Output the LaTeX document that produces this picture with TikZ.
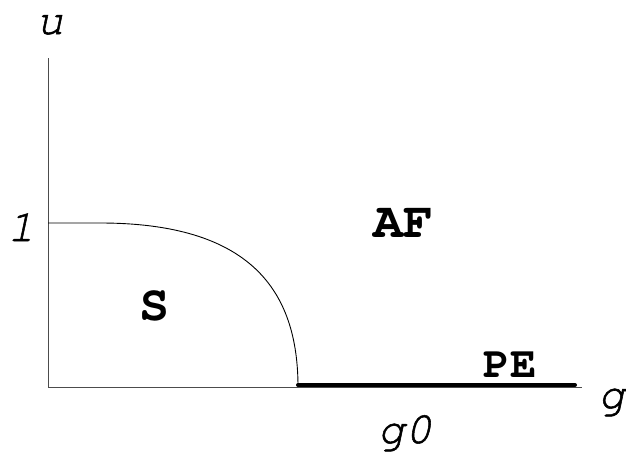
\documentclass[tikz,border=0pt]{standalone}
\usepackage{fontspec}
\newfontfamily\curobl{texgyrecursor-italic}[Extension=.otf,FakeBold=1.2]
\newfontfamily\curbold{texgyrecursor-bold}[Extension=.otf]
\begin{document}
\begin{tikzpicture}[x=1pt,y=-1pt,
  axislbl/.style={font=\fontsize{45}{45}\selectfont\curobl, inner sep=0pt, anchor=base, text height=0.5em},
  regionlbl/.style={font=\fontsize{50}{50}\selectfont\curbold, inner sep=0pt, anchor=base},
  axisline/.style={line width=0.9pt, draw=black!70},
  boundary/.style={line width=0.9pt},
  thickline/.style={line width=4pt, line cap=round}]
\useasboundingbox (0,0) rectangle (626,455);
\coordinate (top) at (48,58);
\coordinate (origin) at (48,387);
\coordinate (right) at (582,387);
\coordinate (one) at (48,223);
\coordinate (flat) at (100,223);
\coordinate (g0pt) at (298,387);
\coordinate (peend) at (575,385);
\draw[axisline] (top) -- (origin) -- (right);
\draw[boundary] (one) -- (flat) .. controls (250,223) and (298,290) .. (g0pt);
\draw[thickline] (g0pt) ++(0,-2) coordinate (pestart) -- (peend);
\node[axislbl] (ulbl) at (50,34) {u};
\node[axislbl] (onelbl) at (21,241) {1};
\node[axislbl] (glbl) at (612,408) {g};
\node[axislbl] (g0lbl) at (405,443) {g0};
\node[regionlbl] (af) at (403,237) {AF};
\node[regionlbl] (s) at (154,320) {S};
\node[regionlbl, font=\fontsize{44}{44}\selectfont\curbold] (pe) at (510,377) {PE};
\end{tikzpicture}
\end{document}
